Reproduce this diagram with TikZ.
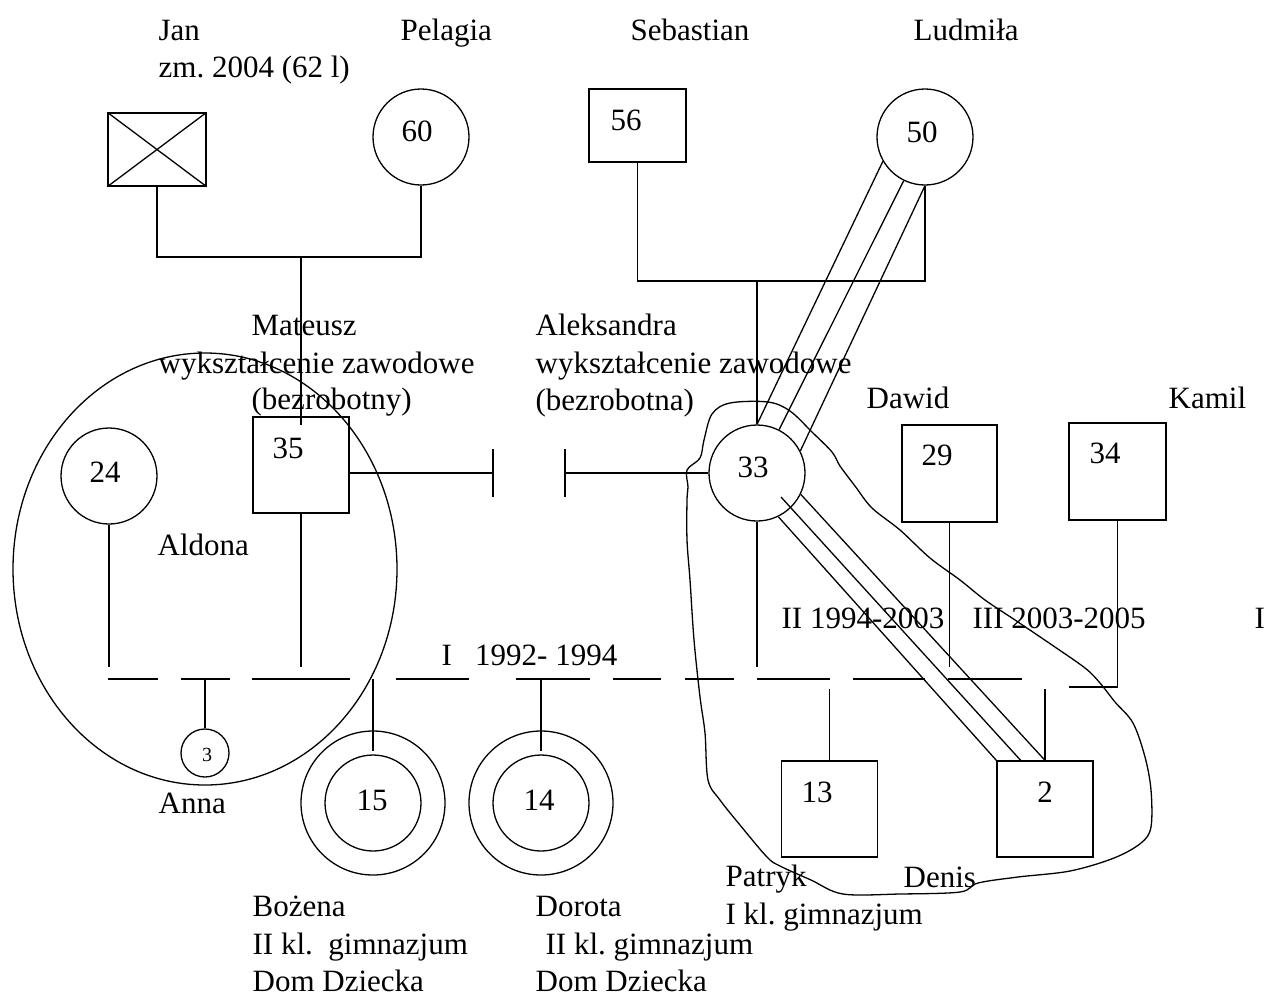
\documentclass[tikz,border=0pt]{standalone}
\usepackage{fontspec}
\setmainfont{Liberation Serif}
\usetikzlibrary{calc,positioning}

\begin{document}
\begin{tikzpicture}[x=0.5pt, y=-0.5pt, line width=0.65pt]
  % Style symboli genogramu
  \tikzset{
    kobieta/.style={draw, circle, minimum size=48pt, inner sep=0pt},
    mezczyzna/.style={draw, rectangle, minimum width=48pt, minimum height=48pt, inner sep=0pt},
    opis/.style={anchor=west, inner sep=0pt, align=left, font=\fontsize{15.5}{18.75}\selectfont},
    wiek/.style={inner sep=0pt, font=\fontsize{15.5}{18.75}\selectfont}
  }
  \useasboundingbox (0,0) rectangle (1264,998);

  % --- Dziadkowie ---
  \node[mezczyzna, minimum width=49pt, minimum height=36.5pt] (jan) at (157,149.5) {};
  \draw (jan.north west) -- (jan.south east) (jan.north east) -- (jan.south west); % zmarły
  \node[kobieta] (pel) at (421,137) {};
  \node[mezczyzna, minimum width=48.5pt, minimum height=36.5pt] (seb) at (637.5,125.5) {};
  \node[kobieta] (lud) at (925,137) {};

  % --- Rodzice i partnerzy ---
  \node[kobieta] (ald) at (109,476) {};
  \node[mezczyzna] (mat) at (301,465) {};
  \node[kobieta] (ale) at (757,473) {};
  \node[mezczyzna, minimum width=47.5pt, minimum height=48.5pt] (daw) at (949.5,473.5) {};
  \node[mezczyzna, minimum width=48.5pt, minimum height=48.5pt] (kam) at (1117.5,471.5) {};

  % --- Dzieci ---
  \node[kobieta, minimum size=24pt] (ann) at (205,753) {};
  \node[kobieta] (boz) at (373,803) {};
  \draw (boz.center) circle[radius=36pt]; % poza domem
  \node[kobieta] (dor) at (541,803) {};
  \draw (dor.center) circle[radius=36pt];
  \node[mezczyzna] (pat) at (829.5,809) {};
  \node[mezczyzna] (den) at (1045,809) {};

  % --- Wiek ---
  \node[wiek] (w60) at (417,131) {60};
  \node[wiek] (w56) at (626,120) {56};
  \node[wiek] (w50) at (922,132) {50};
  \node[wiek] (w24) at (105,472) {24};
  \node[wiek] (w35) at (288,448) {35};
  \node[wiek] (w33) at (753,467) {33};
  \node[wiek] (w29) at (937,455) {29};
  \node[wiek] (w34) at (1105,453) {34};
  \node[wiek, font=\fontsize{10}{12}\selectfont] (w3) at (207,755) {3};
  \node[wiek] (w15) at (372,800) {15};
  \node[wiek] (w14) at (539,800) {14};
  \node[wiek] (w13) at (817,792) {13};
  \node[wiek] (w2) at (1045,792) {2};

  % --- Linie pokrewieństwa ---
  \coordinate (jp) at (301,257);
  \draw (jan.south) |- (jp) -| (pel.south);
  \draw (jp) -- ($(mat.north)+(0,9)$);
  \coordinate (sl) at (757,281);
  \draw (seb.south) |- (sl) -| (lud.south);
  \draw (sl) -- (ale.north);

  % bliska więź (linie potrójne)
  \draw (lud.210) -- (ale.north);
  \draw (lud.244) -- (ale.63);
  \draw (lud.south) -- (ale.27);
  \draw (ale.296) -- (den.north west);
  \draw ($(ale.center)+(24,24)$) -- ($(den.north west)!0.5!(den.north)$);
  \draw (ale.334) -- (den.north);

  % rozwód Mateusz - Aleksandra
  \coordinate (r1) at (493,473);
  \coordinate (r2) at (565,473);
  \draw (mat.east |- r1) -- (r1) ++(0,-24) -- ++(0,48);
  \draw (ale.west) -- (r2) ++(0,-24) -- ++(0,48);

  % linia dzieci
  \coordinate (dl) at (108,679);
  \coordinate (dr) at (1022,679);
  \draw[dash pattern=on 25pt off 11.5pt on 24.5pt off 11pt on 49pt off 23pt on 36.5pt off 23.5pt
    on 37pt off 11.5pt on 24pt off 12pt on 24.5pt off 11.5pt on 36.5pt off 11.5pt
    on 36pt off 11.5pt on 37pt off 20pt] (dl) -- (dr);
  \coordinate (gora) at (0,667);
  \coordinate (dol) at (0,689);
  \coordinate (kl) at (1069,687);
  \draw (ald.south) -- (ald.south |- gora);
  \draw (mat.south) -- (mat.south |- gora);
  \draw (ale.south) -- (ale.south |- gora);
  \draw (daw.south) -- (daw.south |- gora);
  \draw (kam.south) |- (kl);
  \draw (ann.north |- dl) -- (ann.north);
  \draw (boz.north |- dl) -- ($(boz.north)+(0,-3)$);
  \draw (dor.north |- dl) -- ($(dor.north)+(0,-3)$);
  \draw (pat.north |- dol) -- (pat.north);
  \draw (den.north |- dol) -- (den.north);

  % --- Granice gospodarstw ---
  \draw (205,569) ellipse[x radius=96pt, y radius=108pt];
  \draw plot[smooth cycle, tension=0.55] coordinates {
    (688,487) (687,470) (700,458) (704,440) (712,414) (730,403) (768,402) (790,411)
    (812,432) (832,452) (840,466) (855,486) (872,508) (900,530) (930,558) (960,580)
    (985,600) (1015,620) (1052,645) (1085,668) (1100,683) (1115,702) (1133,723)
    (1145,757) (1151,790) (1151,827) (1141,843) (1114,858) (1070,871) (1018,877)
    (978,883) (960,892) (900,894) (843,894) (811,880) (780,866) (767,857) (740,825)
    (720,800) (708,780) (705,733) (700,697) (694,640) (690,580) (687,540) (687,500)};

  % --- Opisy osób ---
  \node[opis] (tjan) at (158,52) {Jan\\zm.\ 2004 (62 l)};
  \node[opis] (tpel) at (400,33) {Pelagia};
  \node[opis] (tseb) at (630,30) {Sebastian};
  \node[opis] (tlud) at (913,30) {Ludmiła};
  \node[opis] (tmat1) at (251,325) {Mateusz};
  \node[opis] (tmat2) at (158,366) {wykształcenie zawodowe};
  \node[opis] (tmat3) at (251,402) {(bezrobotny)};
  \node[opis] (tale) at (535,366) {Aleksandra\\wykształcenie zawodowe\\(bezrobotna)};
  \node[opis] (tdaw) at (866,398) {Dawid};
  \node[opis] (tkam) at (1168,398) {Kamil};
  \node[opis] (tald) at (157,545) {Aldona};
  \node[opis] (tann) at (158,803) {Anna};
  \node[opis] (tboz) at (252,944) {Bożena\\II kl.\ \ gimnazjum\\Dom Dziecka};
  \node[opis] (tdor) at (535,944) {Dorota\\\hspace*{5pt}II kl.\ gimnazjum\\Dom Dziecka};
  \node[opis] (tpat) at (725,898) {Patryk\\I kl.\ gimnazjum};
  \node[opis] (tden) at (903,877) {Denis};

  % --- Okresy związków ---
  \node[opis] (ok1) at (441,655) {I\ \ \ 1992- 1994};
  \node[opis] (ok2) at (781,618) {II 1994-2003};
  \node[opis] (ok3) at (972,618) {III 2003-2005};
  \node[opis] (ok4) at (1254,618) {I};
\end{tikzpicture}
\end{document}
